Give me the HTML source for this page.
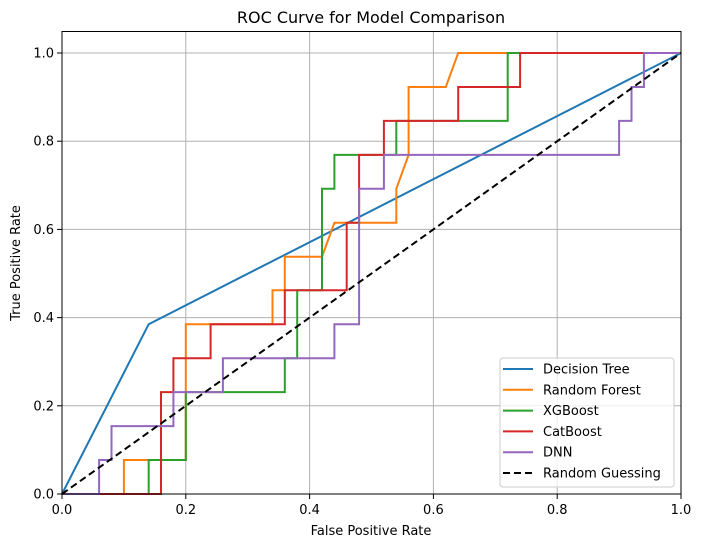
<!DOCTYPE html>
<html><head><meta charset="utf-8"><style>
body{margin:0;background:#fff}
svg{display:block;font-family:"DejaVu Sans","Liberation Sans",sans-serif}
</style></head><body>
<svg id="chart" width="702" height="547" viewBox="0 0 702 547" xmlns="http://www.w3.org/2000/svg">
<text x="371" y="23" font-size="16" text-anchor="middle">ROC Curve for Model Comparison</text>
<g id="grid"></g>
<g id="series"></g>
<rect x="62" y="31.5" width="619" height="462.5" fill="none" stroke="#000" stroke-width="1"/>
<g id="ticks"></g>
<text x="371" y="535" font-size="13" text-anchor="middle">False Positive Rate</text>
<text x="20" y="263" font-size="13" text-anchor="middle" transform="rotate(-90 20 263)">True Positive Rate</text>
<g id="legend"></g>
</svg>
<script>
const seriesNames = ["Decision Tree","Random Forest","XGBoost","CatBoost","DNN"];
const seriesColors = ["#1f77b4","#ff7f0e","#2ca02c","#d62728","#9467bd"];
const dtFpr = [0,0.14,1];
const dtTpr = [0,0.385,1];
const rfFpr = [0,0.1,0.1,0.2,0.2,0.34,0.34,0.36,0.36,0.42,0.44,0.54,0.54,0.56,0.56,0.62,0.64,1];
const rfTpr = [0,0,0.077,0.077,0.385,0.385,0.462,0.462,0.538,0.538,0.615,0.615,0.692,0.769,0.923,0.923,1,1];
const xgFpr = [0,0.14,0.14,0.2,0.2,0.36,0.36,0.38,0.38,0.42,0.42,0.44,0.44,0.54,0.54,0.72,0.72,1];
const xgTpr = [0,0,0.077,0.077,0.231,0.231,0.308,0.308,0.462,0.462,0.692,0.692,0.769,0.769,0.846,0.846,1,1];
const cbFpr = [0,0.16,0.16,0.18,0.18,0.24,0.24,0.36,0.36,0.46,0.46,0.48,0.48,0.52,0.52,0.64,0.64,0.74,0.74,1];
const cbTpr = [0,0,0.231,0.231,0.308,0.308,0.385,0.385,0.462,0.462,0.615,0.615,0.769,0.769,0.846,0.846,0.923,0.923,1,1];
const dnnFpr = [0,0.06,0.06,0.08,0.08,0.18,0.18,0.26,0.26,0.44,0.44,0.48,0.48,0.52,0.52,0.9,0.9,0.92,0.92,0.94,0.94,1];
const dnnTpr = [0,0,0.077,0.077,0.154,0.154,0.231,0.231,0.308,0.308,0.385,0.385,0.692,0.692,0.769,0.769,0.846,0.846,0.923,0.923,1,1];
const randFpr = [0,1];
const randTpr = [0,1];
const xTicks = [0,0.2,0.4,0.6,0.8,1.0];
const yTicks = [0,0.2,0.4,0.6,0.8,1.0];
const tickLabels = ["0.0","0.2","0.4","0.6","0.8","1.0"];

const NS="http://www.w3.org/2000/svg";
const X0=62,X1=681,Y0=494,YPER=441;
function sx(v){return X0+(X1-X0)*v;}
function sy(v){return Y0-YPER*v;}
function mk(tag,attrs,parent){const e=document.createElementNS(NS,tag);for(const k in attrs)e.setAttribute(k,attrs[k]);parent.appendChild(e);return e;}
const grid=document.getElementById('grid'),ticks=document.getElementById('ticks'),ser=document.getElementById('series'),leg=document.getElementById('legend');
xTicks.forEach((t,i)=>{
  const g=mk('line',{x1:sx(t),x2:sx(t),y1:31.5,y2:494,stroke:'#b0b0b0','stroke-width':1},grid);
  
  
  const tk=mk('line',{x1:sx(t),x2:sx(t),y1:494,y2:499,stroke:'#000'},ticks);
  
  
  const tl=mk('text',{x:sx(t),y:514,'font-size':13,'text-anchor':'middle'},ticks);
  tl.textContent=tickLabels[i];
  
  
});
yTicks.forEach((t,i)=>{
  const g=mk('line',{x1:62,x2:681,y1:sy(t),y2:sy(t),stroke:'#b0b0b0','stroke-width':1},grid);
  
  
  const tk=mk('line',{x1:57,x2:62,y1:sy(t),y2:sy(t),stroke:'#000'},ticks);
  
  
  const tl=mk('text',{x:54,y:sy(t)+4.5,'font-size':13,'text-anchor':'end'},ticks);
  tl.textContent=tickLabels[i];
  
  
});
const allF=[dtFpr,rfFpr,xgFpr,cbFpr,dnnFpr],allT=[dtTpr,rfTpr,xgTpr,cbTpr,dnnTpr];
const ids=['decision-tree','random-forest','xgboost','catboost','dnn'];
function pts(f,t){return f.map((v,i)=>sx(v).toFixed(1)+','+sy(t[i]).toFixed(1)).join(' ');}
allF.forEach((f,i)=>{
  const p=mk('polyline',{points:pts(f,allT[i]),fill:'none',stroke:seriesColors[i],'stroke-width':2},ser);
  
  
});
const rl=mk('polyline',{points:pts(randFpr,randTpr),fill:'none',stroke:'#000','stroke-width':2,'stroke-dasharray':'7,4'},ser);


const box=mk('rect',{x:500,y:358,width:174,height:129,rx:3,fill:'#fff','fill-opacity':0.8,stroke:'#ccc'},leg);


const legNames=seriesNames.concat(["Random Guessing"]),legColors=seriesColors.concat(["#000"]);
legNames.forEach((n,i)=>{
  const y=369+i*20.8;
  const g=mk('g',{},leg);
  
  
  const a={x1:503,x2:533,y1:y,y2:y,stroke:legColors[i],'stroke-width':2};
  if(i===5)a['stroke-dasharray']='7,4';
  mk('line',a,g);
  const t=mk('text',{x:543,y:y+4.5,'font-size':13},g);
  t.textContent=n;
});
</script>
</body></html>
